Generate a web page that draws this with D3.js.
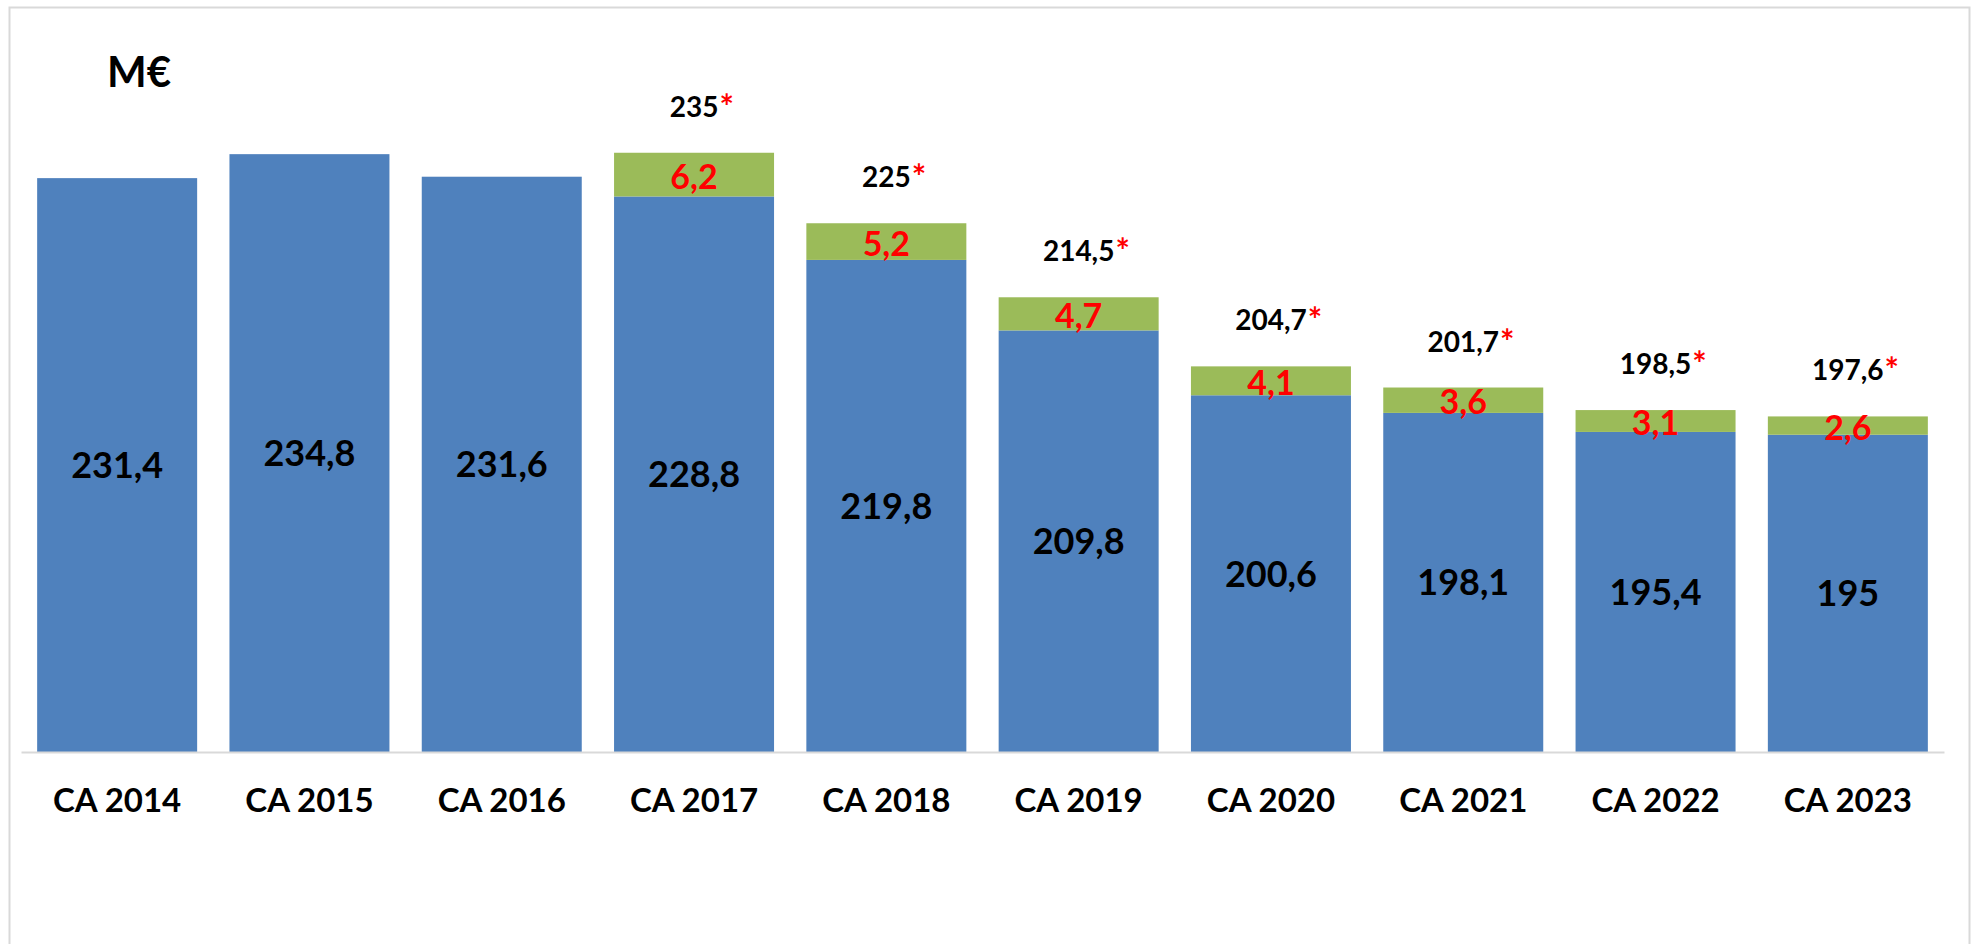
<!DOCTYPE html>
<meta charset="utf-8">
<script src="https://d3js.org/d3.v7.min.js"></script>
<style>
  body { margin: 0; background: #fff; }
  text { font-family: Lato, "Open Sans", sans-serif; font-weight: bold; }
</style>
<body>
<svg id="chart" width="1973" height="944"></svg>
<script>
// data (M€)
const years = ["CA 2014", "CA 2015", "CA 2016", "CA 2017", "CA 2018", "CA 2019", "CA 2020", "CA 2021", "CA 2022", "CA 2023"];
const baseValues = [231.4, 234.8, 231.6, 228.8, 219.8, 209.8, 200.6, 198.1, 195.4, 195];
const extraValues = [0, 0, 0, 6.2, 5.2, 4.7, 4.1, 3.6, 3.1, 2.6];
const yDomain = [150, 250];

const rows = years.map((y, i) => ({ year: y, base: baseValues[i], extra: extraValues[i] }));
const fmt = v => String(Math.round(v * 10) / 10).replace(".", ",");

const svg = d3.select("#chart");

// frame
svg.append("rect")
    .attr("x", 9.5).attr("y", 7.5)
    .attr("width", 1960).attr("height", 960)
    .attr("fill", "none")
    .attr("stroke", "#d9d9d9")
    .attr("stroke-width", 2);

const x = d3.scaleBand()
    .domain(years)
    .range([21, 1944])
    .paddingInner(0.168)
    .paddingOuter(0.084);

const y = d3.scaleLinear()
    .domain(yDomain)
    .range([752, 47])
    .clamp(true);

const series = d3.stack().keys(["base", "extra"])(rows);
const colors = { base: "#4f81bd", extra: "#9bbb59" };

svg.append("g").selectAll("g").data(series)
    .join("g")
    .attr("fill", s => colors[s.key])
    .selectAll("rect")
    .data(s => s.filter(d => d[1] > d[0]))
    .join("rect")
    .attr("x", d => x(d.data.year))
    .attr("width", x.bandwidth())
    .attr("y", d => y(d[1]))
    .attr("height", d => y(d[0]) - y(d[1]));

// x axis
const xAxis = svg.append("g")
    .attr("transform", "translate(0,752)")
    .call(d3.axisBottom(x).tickSize(0).tickSizeOuter(0).tickPadding(37));
xAxis.select(".domain").attr("stroke", "#d9d9d9").attr("stroke-width", 2);
xAxis.selectAll("text")
    .attr("font-family", "Lato, sans-serif")
    .attr("font-size", 33)
    .attr("font-weight", "bold")
    .attr("fill", "#000");

// labels inside blue bars
svg.append("g").selectAll("text").data(rows)
    .join("text")
    .attr("x", d => x(d.year) + x.bandwidth() / 2)
    .attr("y", d => (y(0) + y(d.base)) / 2)
    .attr("dy", "0.36em")
    .attr("text-anchor", "middle")
    .attr("font-size", 36)
    .attr("fill", "#000")
    .text(d => fmt(d.base));

// labels in green segments
const extraRows = rows.filter(d => d.extra > 0);
svg.append("g").selectAll("text").data(extraRows)
    .join("text")
    .attr("x", d => x(d.year) + x.bandwidth() / 2)
    .attr("y", d => (y(d.base) + y(d.base + d.extra)) / 2)
    .attr("dy", "0.42em")
    .attr("text-anchor", "middle")
    .attr("font-size", 34)
    .attr("fill", "#ff0000")
    .text(d => fmt(d.extra));

// totals with red star
const totals = svg.append("g").selectAll("g").data(extraRows)
    .join("g")
    .attr("transform", d => `translate(${x(d.year) + x.bandwidth() / 2},${y(d.base + d.extra) - 36})`);
totals.append("text")
    .attr("class", "num")
    .attr("text-anchor", "middle")
    .attr("font-size", 28)
    .attr("fill", "#000")
    .text(d => fmt(d.base + d.extra));
totals.each(function () {
    const g = d3.select(this);
    const w = g.select("text.num").node().getComputedTextLength();
    g.append("text")
        .attr("x", w / 2 + 1)
        .attr("y", 2)
        .attr("font-size", 34)
        .attr("fill", "#ff0000")
        .text("*");
});

// unit
svg.append("text")
    .attr("x", 107).attr("y", 87)
    .attr("font-size", 42)
    .attr("fill", "#000")
    .text("M€");
</script>
</body>
